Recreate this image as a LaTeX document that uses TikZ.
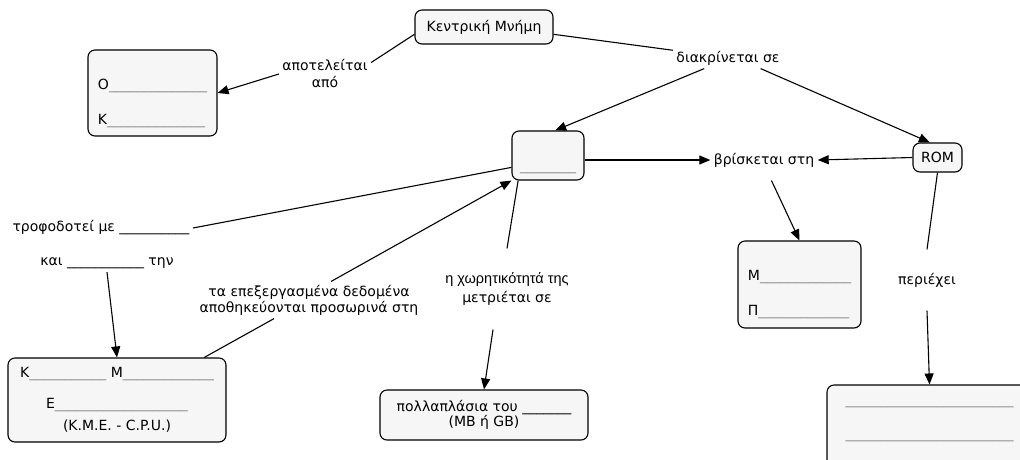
\documentclass[tikz,border=0pt]{standalone}
\usepackage{fontspec}
\setmainfont{DejaVu Sans}
\newfontfamily\arialfont{Liberation Sans}
\usetikzlibrary{arrows.meta}

\definecolor{boxfill}{HTML}{F6F6F6}
\definecolor{blankgray}{HTML}{8C8C8C}

% a fill-in line made of underscores
\newcommand{\blank}[2][blankgray]{\textcolor{#1}{\foreach \n in {1,...,#2}{\_}}}

\tikzstyle{box} = [draw, fill=boxfill, rectangle, rounded corners=7pt,
    line width=1.1pt, inner sep=4pt]
\tikzstyle{lbl} = [rectangle, align=center, inner sep=3pt]

\begin{document}
\begin{tikzpicture}[x=1pt, y=-1pt, font=\fontsize{14}{17}\selectfont,
    line width=1.1pt, >={Triangle[length=11pt,width=9pt]}]
  \useasboundingbox (0,0) rectangle (1020,459);

  % boxes
  \node (km) [box, minimum width=138pt, minimum height=34pt] at (484,27) {Κεντρική Μνήμη};
  \node (ok) [box, align=left, minimum width=129pt, minimum height=86pt] at (152.5,93)
        {\rule{0pt}{32pt}Ο\blank{14}\\[18pt]Κ\blank{14}};
  \node (ram) [box, minimum width=72pt, minimum height=49pt] at (548,155.5)
        {\rule{0pt}{34pt}\blank{8}};
  \node (rom) [box, minimum width=49pt, minimum height=29pt] at (937.5,157.5) {ROM};
  \node (mp) [box, align=left, minimum width=123pt, minimum height=87pt] at (799.5,284.5)
        {\rule{0pt}{31pt}Μ\blank{13}\\[18pt]Π\blank{13}};
  \node (bl) [box, align=center, minimum width=218pt, minimum height=84pt] at (117,400)
        {Κ\blank{11} Μ\blank{13}\\[14pt]Ε\blank{19}\\[5pt](Κ.Μ.Ε. - C.P.U.)};
  \node (pol) [box, align=center, minimum width=208pt, minimum height=50pt] at (484,415)
        {πολλαπλάσια του \blank[black]{7}\\[-2pt](MB ή GB)};
  \node (br) [box, align=center, minimum width=205pt, minimum height=85pt] at (929.5,427.5)
        {\strut\blank{24}\\[17pt]\rule[-23pt]{0pt}{23pt}\blank{24}};

  % linking phrases
  \node (apo) [lbl] at (325,74) {αποτελείται\\από};
  \node (diak) [lbl] at (728,58) {διακρίνεται σε};
  \node (vris) [lbl, minimum height=40pt] at (764,160) {βρίσκεται στη};
  \node (trof) [lbl] at (101,228) {τροφοδοτεί με \blank[black]{10}};
  \node (kai) [lbl] at (107,263) {και \blank[black]{11} την};
  \node (epex) [lbl] at (309,300) {τα επεξεργασμένα δεδομένα\\[-1pt]αποθηκεύονται προσωρινά στη};
  \node (xwr) [lbl, minimum height=80pt] at (507,289)
        {{\arialfont\fontsize{14.5}{17}\selectfont η χωρητικότητά της}\\[2pt]μετριέται σε};
  \node (per) [lbl, minimum height=60pt] at (927,280) {περιέχει};

  % connectors
  \draw (km.186) -- (apo.14);
  \draw [->] (apo.west) -- (ok.east);
  \draw (km.354) -- (diak.172);
  \draw [->] (diak.204) -- (ram.74);
  \draw [->] (diak.342) -- (rom.117);
  \draw [->] (ram.east |- vris) -- (vris.west);
  \draw [->] (rom.west) -- (vris.east);
  \draw [->] (vris.290) -- (mp.north);
  \draw (trof.east) -- (ram.198);
  \draw [->] (kai.south) -- (bl.north);
  \draw (bl.26) -- (epex.208);
  \draw [->] (epex.40) -- (ram.south west);
  \draw (ram.220) -- (xwr.north);
  \draw [->] (xwr.251) -- (pol.north);
  \draw (rom.south) -- (per.north);
  \draw [->] (per.south) -- (br.north);
\end{tikzpicture}
\end{document}
